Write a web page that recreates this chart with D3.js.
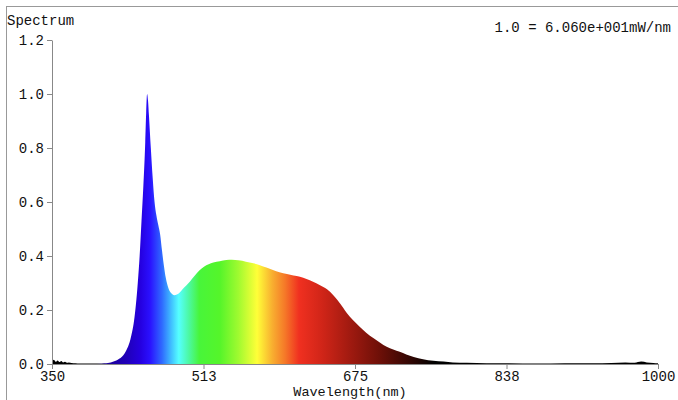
<!DOCTYPE html>
<html>
<head>
<meta charset="utf-8">
<script src="https://cdn.jsdelivr.net/npm/d3@7"></script>
<style>
  html, body { margin: 0; padding: 0; background: white; }
  svg { display: block; }
  text { font-family: "Liberation Mono", "DejaVu Sans Mono", monospace; fill: #111; }
</style>
</head>
<body>
<svg id="chart" width="678" height="400"></svg>
<script>
// spectrum samples (relative units, 1.0 = peak)
const wavelengths = [
  350, 352, 354, 356, 358, 360, 362, 364, 366, 368, 371, 375, 380, 390, 400,
  406, 410, 413, 416, 419, 422, 425, 428, 431, 434, 436, 438, 440, 442, 444,
  446, 448, 450, 451, 452, 453, 454, 456, 458, 460, 462, 464, 466, 468, 470,
  472, 475, 478, 481, 484, 487, 490, 494, 498, 503, 508, 513, 518, 523, 530,
  537, 543, 550, 558, 566, 573, 580, 587, 594, 602, 609, 616, 623, 630, 637,
  645, 652, 659, 666, 673, 680, 687, 695, 702, 709, 716, 723, 730, 738, 748,
  759, 770, 780, 795, 816, 840, 870, 900, 930, 950, 965, 975, 982, 988, 995, 1000
];
const intensity = [
  0.010, 0.016, 0.008, 0.013, 0.007, 0.011, 0.006, 0.008, 0.005, 0.006, 0.004, 0.003, 0.002, 0.002, 0.002,
  0.003, 0.004, 0.006, 0.009, 0.013, 0.019, 0.027, 0.040, 0.060, 0.090, 0.120, 0.160, 0.220, 0.300, 0.400,
  0.530, 0.660, 0.820, 0.930, 1.000, 0.975, 0.920, 0.800, 0.690, 0.600, 0.550, 0.515, 0.480, 0.420, 0.365,
  0.320, 0.280, 0.262, 0.255, 0.257, 0.265, 0.277, 0.291, 0.306, 0.327, 0.346, 0.360, 0.369, 0.376, 0.381,
  0.385, 0.386, 0.384, 0.379, 0.373, 0.366, 0.357, 0.348, 0.340, 0.333, 0.328, 0.323, 0.315, 0.305, 0.293,
  0.277, 0.254, 0.224, 0.190, 0.162, 0.138, 0.116, 0.095, 0.079, 0.064, 0.054, 0.045, 0.035, 0.026, 0.018,
  0.012, 0.009, 0.006, 0.005, 0.003, 0.003, 0.002, 0.003, 0.003, 0.004, 0.006, 0.005, 0.009, 0.006, 0.004, 0.003
];
const xTicks = [350, 512.5, 675, 837.5, 1000];
const xTickLabels = ["350", "513", "675", "838", "1000"];
const yTicks = [0, 0.2, 0.4, 0.6, 0.8, 1.0, 1.2];

// fill colour by wavelength
const colorStops = [
  [350, "#000000"], [398, "#000000"], [408, "#1a0098"], [430, "#2000b8"],
  [445, "#2500e0"], [455, "#2a10ff"], [468, "#2f6aff"], [478, "#40c0ff"],
  [486, "#55ffff"], [497, "#4cf8a0"], [508, "#48f53a"], [530, "#55f52a"],
  [550, "#a0fa30"], [570, "#ffff38"], [586, "#f8b030"], [600, "#f57828"],
  [615, "#f03020"], [640, "#d02518"], [670, "#a01a10"], [700, "#701008"],
  [730, "#3a0804"], [760, "#000000"], [1000, "#000000"]
];

const data = wavelengths.map((w, i) => ({ w: w, v: intensity[i] }));

const svg = d3.select("#chart");
const margin = { top: 40, left: 52, right: 20, bottom: 36 };
const width = 678, height = 400;

const x = d3.scaleLinear().domain([350, 1000]).range([margin.left, 658]);
const y = d3.scaleLinear().domain([0, 1.2]).range([height - margin.bottom, margin.top]);

// outer frame
svg.append("rect")
  .attr("x", 6.5).attr("y", 6.5)
  .attr("width", 690).attr("height", 420)
  .attr("fill", "none")
  .attr("stroke", "#999");

const grad = svg.append("defs").append("linearGradient")
  .attr("id", "spec")
  .attr("gradientUnits", "userSpaceOnUse")
  .attr("x1", x(350)).attr("x2", x(1000))
  .attr("y1", 0).attr("y2", 0);

grad.selectAll("stop")
  .data(colorStops)
  .enter().append("stop")
  .attr("offset", d => (d[0] - 350) / 650)
  .attr("stop-color", d => d[1]);

const area = d3.area()
  .x(d => x(d.w))
  .y0(y(0))
  .y1(d => y(d.v))
  .curve(d3.curveMonotoneX);

svg.append("path")
  .datum(data)
  .attr("d", area)
  .attr("fill", "url(#spec)");

// axes
const xAxis = svg.append("g")
  .attr("transform", `translate(0,${y(0)})`)
  .call(d3.axisBottom(x)
    .tickValues(xTicks)
    .tickFormat((d, i) => xTickLabels[i])
    .tickSize(5)
    .tickSizeOuter(0)
    .tickPadding(2));

const yAxis = svg.append("g")
  .attr("transform", `translate(${x(350)},0)`)
  .call(d3.axisLeft(y)
    .tickValues(yTicks)
    .tickFormat(d3.format(".1f"))
    .tickSize(5)
    .tickSizeOuter(0)
    .tickPadding(3));

[xAxis, yAxis].forEach(a => {
  a.select(".domain").attr("stroke", "#888");
  a.selectAll(".tick line").attr("stroke", "#888");
  a.selectAll("text")
    .style("font-family", "'Liberation Mono', 'DejaVu Sans Mono', monospace")
    .style("font-size", "14px")
    .attr("fill", "#111");
});

svg.append("text")
  .attr("x", 7).attr("y", 25)
  .style("font-size", "14px")
  .text("Spectrum");

svg.append("text")
  .attr("x", 671).attr("y", 32)
  .attr("text-anchor", "end")
  .style("font-size", "14px")
  .text("1.0 = 6.060e+001mW/nm");

svg.append("text")
  .attr("x", 350).attr("y", 396)
  .attr("text-anchor", "middle")
  .style("font-size", "13.5px")
  .text("Wavelength(nm)");
</script>
</body>
</html>
